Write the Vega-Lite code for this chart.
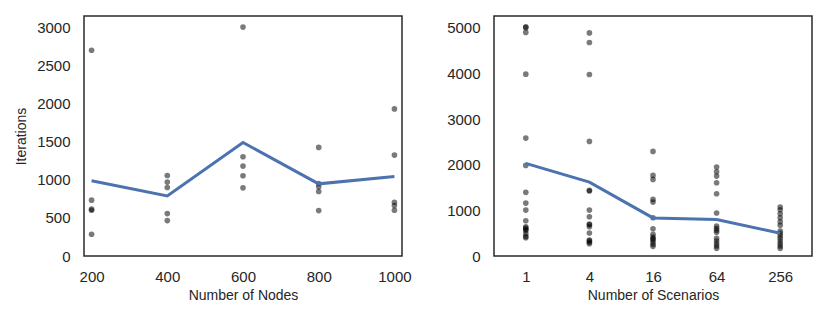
{
  "$schema": "https://vega.github.io/schema/vega-lite/v6.json",
  "padding": {"left": 13, "top": 15, "right": 5, "bottom": 5},
  "background": "white",
  "spacing": 33,
  "config": {
    "view": {"stroke": "#2a2a2a", "strokeWidth": 1.5},
    "axis": {
      "domain": false, "ticks": false, "grid": false, "labelOverlap": false, "labelFlush": false, "format": "d",
      "labelFont": "Liberation Sans", "labelFontSize": 15, "labelColor": "#262626",
      "titleFont": "Liberation Sans", "titleFontSize": 14, "titleFontWeight": "normal", "titleColor": "#262626"
    },
    "axisX": {"labelPadding": 13, "titlePadding": 4},
    "axisY": {"labelPadding": 14, "titlePadding": 8}
  },
  "datasets": {
    "nodes": [
      {"nodes": 200, "iterations": 2700}, {"nodes": 200, "iterations": 733}, {"nodes": 200, "iterations": 615}, {"nodes": 200, "iterations": 600}, {"nodes": 200, "iterations": 285},
      {"nodes": 400, "iterations": 1057}, {"nodes": 400, "iterations": 970}, {"nodes": 400, "iterations": 899}, {"nodes": 400, "iterations": 557}, {"nodes": 400, "iterations": 465},
      {"nodes": 600, "iterations": 3004}, {"nodes": 600, "iterations": 1303}, {"nodes": 600, "iterations": 1180}, {"nodes": 600, "iterations": 1053}, {"nodes": 600, "iterations": 895},
      {"nodes": 800, "iterations": 1425}, {"nodes": 800, "iterations": 951}, {"nodes": 800, "iterations": 908}, {"nodes": 800, "iterations": 846}, {"nodes": 800, "iterations": 596},
      {"nodes": 1000, "iterations": 1930}, {"nodes": 1000, "iterations": 1325}, {"nodes": 1000, "iterations": 706}, {"nodes": 1000, "iterations": 662}, {"nodes": 1000, "iterations": 601}
    ],
    "nodesMean": [
      {"nodes": 200, "iterations": 987}, {"nodes": 400, "iterations": 789}, {"nodes": 600, "iterations": 1489}, {"nodes": 800, "iterations": 947}, {"nodes": 1000, "iterations": 1044}
    ],
    "scen": [
      {"scenarios": 1, "iterations": 5020}, {"scenarios": 1, "iterations": 5005}, {"scenarios": 1, "iterations": 4900}, {"scenarios": 1, "iterations": 3985}, {"scenarios": 1, "iterations": 2584}, {"scenarios": 1, "iterations": 1986}, {"scenarios": 1, "iterations": 1395}, {"scenarios": 1, "iterations": 1160}, {"scenarios": 1, "iterations": 1007}, {"scenarios": 1, "iterations": 773}, {"scenarios": 1, "iterations": 640}, {"scenarios": 1, "iterations": 610}, {"scenarios": 1, "iterations": 585}, {"scenarios": 1, "iterations": 560}, {"scenarios": 1, "iterations": 489}, {"scenarios": 1, "iterations": 430}, {"scenarios": 1, "iterations": 400},
      {"scenarios": 4, "iterations": 4890}, {"scenarios": 4, "iterations": 4680}, {"scenarios": 4, "iterations": 3978}, {"scenarios": 4, "iterations": 2511}, {"scenarios": 4, "iterations": 1440}, {"scenarios": 4, "iterations": 1425}, {"scenarios": 4, "iterations": 1007}, {"scenarios": 4, "iterations": 861}, {"scenarios": 4, "iterations": 700}, {"scenarios": 4, "iterations": 685}, {"scenarios": 4, "iterations": 642}, {"scenarios": 4, "iterations": 504}, {"scenarios": 4, "iterations": 350}, {"scenarios": 4, "iterations": 330}, {"scenarios": 4, "iterations": 300}, {"scenarios": 4, "iterations": 270},
      {"scenarios": 16, "iterations": 2292}, {"scenarios": 16, "iterations": 1767}, {"scenarios": 16, "iterations": 1679}, {"scenarios": 16, "iterations": 1241}, {"scenarios": 16, "iterations": 1182}, {"scenarios": 16, "iterations": 839}, {"scenarios": 16, "iterations": 598}, {"scenarios": 16, "iterations": 475}, {"scenarios": 16, "iterations": 416}, {"scenarios": 16, "iterations": 380}, {"scenarios": 16, "iterations": 357}, {"scenarios": 16, "iterations": 307}, {"scenarios": 16, "iterations": 256}, {"scenarios": 16, "iterations": 212},
      {"scenarios": 64, "iterations": 1949}, {"scenarios": 64, "iterations": 1847}, {"scenarios": 64, "iterations": 1752}, {"scenarios": 64, "iterations": 1605}, {"scenarios": 64, "iterations": 1364}, {"scenarios": 64, "iterations": 942}, {"scenarios": 64, "iterations": 657}, {"scenarios": 64, "iterations": 606}, {"scenarios": 64, "iterations": 562}, {"scenarios": 64, "iterations": 519}, {"scenarios": 64, "iterations": 387}, {"scenarios": 64, "iterations": 328}, {"scenarios": 64, "iterations": 270}, {"scenarios": 64, "iterations": 219}, {"scenarios": 64, "iterations": 168},
      {"scenarios": 256, "iterations": 1073}, {"scenarios": 256, "iterations": 1014}, {"scenarios": 256, "iterations": 926}, {"scenarios": 256, "iterations": 839}, {"scenarios": 256, "iterations": 751}, {"scenarios": 256, "iterations": 672}, {"scenarios": 256, "iterations": 547}, {"scenarios": 256, "iterations": 497}, {"scenarios": 256, "iterations": 445}, {"scenarios": 256, "iterations": 387}, {"scenarios": 256, "iterations": 328}, {"scenarios": 256, "iterations": 270}, {"scenarios": 256, "iterations": 219}, {"scenarios": 256, "iterations": 168}
    ],
    "scenMean": [
      {"scenarios": 1, "iterations": 2030}, {"scenarios": 4, "iterations": 1620}, {"scenarios": 16, "iterations": 835}, {"scenarios": 64, "iterations": 800}, {"scenarios": 256, "iterations": 500}
    ]
  },
  "hconcat": [
    {
      "width": 318, "height": 240,
      "encoding": {
        "x": {"field": "nodes", "type": "quantitative", "title": "Number of Nodes", "scale": {"domain": [180, 1020], "nice": false, "zero": false}, "axis": {"values": [200, 400, 600, 800, 1000], "labelOverlap": false}},
        "y": {"field": "iterations", "type": "quantitative", "title": "Iterations", "scale": {"domain": [0, 3150], "nice": false}, "axis": {"values": [0, 500, 1000, 1500, 2000, 2500, 3000], "labelOverlap": false}}
      },
      "layer": [
        {
          "data": {"name": "nodes"},
          "mark": {"type": "circle", "color": "black", "opacity": 0.52, "size": 32}
        },
        {
          "data": {"name": "nodesMean"},
          "mark": {"type": "line", "color": "#4C72B0", "strokeWidth": 3}
        }
      ]
    },
    {
      "width": 318, "height": 240,
      "encoding": {
        "x": {"field": "scenarios", "type": "quantitative", "title": "Number of Scenarios", "scale": {"type": "log", "base": 2, "domain": [0.5, 512], "nice": false}, "axis": {"values": [1, 4, 16, 64, 256], "labelOverlap": false}},
        "y": {"field": "iterations", "type": "quantitative", "title": null, "scale": {"domain": [0, 5260], "nice": false}, "axis": {"values": [0, 1000, 2000, 3000, 4000, 5000], "labelOverlap": false}}
      },
      "layer": [
        {
          "data": {"name": "scen"},
          "mark": {"type": "circle", "color": "black", "opacity": 0.52, "size": 32}
        },
        {
          "data": {"name": "scenMean"},
          "mark": {"type": "line", "color": "#4C72B0", "strokeWidth": 3}
        }
      ]
    }
  ]
}
